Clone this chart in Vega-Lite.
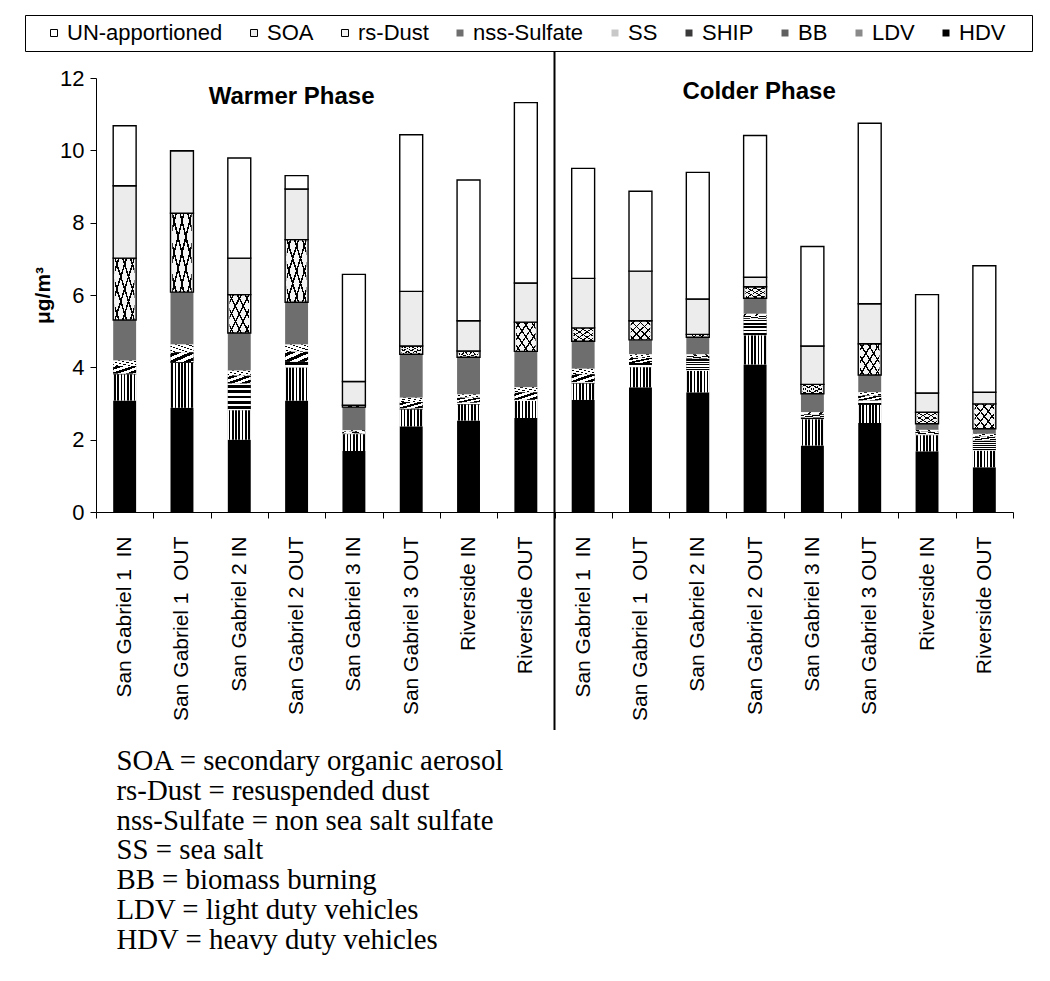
{
  "$schema": "https://vega.github.io/schema/vega-lite/v6.json",
  "width": 917,
  "height": 434,
  "autosize": {"type": "none"},
  "padding": {"left": 96, "top": 78, "right": 37, "bottom": 469},
  "background": "white",
  "config": {"view": {"stroke": null}, "font": "Liberation Sans"},
  "title": {
    "text": ["SOA = secondary organic aerosol", "rs-Dust = resuspended dust", "nss-Sulfate = non sea salt sulfate", "SS = sea salt", "BB = biomass burning", "LDV = light duty vehicles", "HDV = heavy duty vehicles"],
    "orient": "bottom",
    "anchor": "start",
    "font": "Liberation Serif",
    "fontSize": 28.8,
    "fontWeight": "normal",
    "lineHeight": 29.8,
    "color": "black",
    "dx": 92,
    "offset": 16,
    "baseline": "top"
  },
  "data": {
    "values": [
      {"key": "Warmer|San Gabriel 1\u00a0 IN", "HDV": 3.08, "LDV": 0.72, "BB": 0.02, "SHIP": 0.22, "SS": 0.15, "nss-Sulfate": 1.12, "rs-Dust": 1.71, "SOA": 2.00, "UN-apportioned": 1.66},
      {"key": "Warmer|San Gabriel 1\u00a0 OUT", "HDV": 2.88, "LDV": 1.24, "BB": 0.02, "SHIP": 0.28, "SS": 0.21, "nss-Sulfate": 1.45, "rs-Dust": 2.18, "SOA": 1.73, "UN-apportioned": 0.0},
      {"key": "Warmer|San Gabriel 2 IN", "HDV": 2.00, "LDV": 0.81, "BB": 0.74, "SHIP": 0.22, "SS": 0.14, "nss-Sulfate": 1.04, "rs-Dust": 1.06, "SOA": 1.01, "UN-apportioned": 2.77},
      {"key": "Warmer|San Gabriel 2 OUT", "HDV": 3.08, "LDV": 0.91, "BB": 0.16, "SHIP": 0.28, "SS": 0.20, "nss-Sulfate": 1.17, "rs-Dust": 1.73, "SOA": 1.40, "UN-apportioned": 0.37},
      {"key": "Warmer|San Gabriel 3 IN", "HDV": 1.69, "LDV": 0.46, "BB": 0.02, "SHIP": 0.05, "SS": 0.04, "nss-Sulfate": 0.64, "rs-Dust": 0.05, "SOA": 0.66, "UN-apportioned": 2.96},
      {"key": "Warmer|San Gabriel 3 OUT", "HDV": 2.37, "LDV": 0.46, "BB": 0.03, "SHIP": 0.18, "SS": 0.12, "nss-Sulfate": 1.20, "rs-Dust": 0.23, "SOA": 1.51, "UN-apportioned": 4.33},
      {"key": "Warmer|Riverside IN", "HDV": 2.53, "LDV": 0.44, "BB": 0.05, "SHIP": 0.14, "SS": 0.09, "nss-Sulfate": 1.03, "rs-Dust": 0.17, "SOA": 0.84, "UN-apportioned": 3.89},
      {"key": "Warmer|Riverside OUT", "HDV": 2.60, "LDV": 0.47, "BB": 0.03, "SHIP": 0.21, "SS": 0.14, "nss-Sulfate": 0.99, "rs-Dust": 0.81, "SOA": 1.08, "UN-apportioned": 4.99},
      {"key": "Colder|San Gabriel 1\u00a0 IN", "HDV": 3.10, "LDV": 0.45, "BB": 0.04, "SHIP": 0.22, "SS": 0.15, "nss-Sulfate": 0.76, "rs-Dust": 0.37, "SOA": 1.37, "UN-apportioned": 3.04},
      {"key": "Colder|San Gabriel 1\u00a0 OUT", "HDV": 3.45, "LDV": 0.55, "BB": 0.12, "SHIP": 0.14, "SS": 0.10, "nss-Sulfate": 0.40, "rs-Dust": 0.53, "SOA": 1.37, "UN-apportioned": 2.21},
      {"key": "Colder|San Gabriel 2 IN", "HDV": 3.31, "LDV": 0.59, "BB": 0.34, "SHIP": 0.07, "SS": 0.05, "nss-Sulfate": 0.47, "rs-Dust": 0.08, "SOA": 0.98, "UN-apportioned": 3.50},
      {"key": "Colder|San Gabriel 2 OUT", "HDV": 4.08, "LDV": 0.80, "BB": 0.46, "SHIP": 0.08, "SS": 0.06, "nss-Sulfate": 0.43, "rs-Dust": 0.32, "SOA": 0.26, "UN-apportioned": 3.92},
      {"key": "Colder|San Gabriel 3 IN", "HDV": 1.84, "LDV": 0.72, "BB": 0.05, "SHIP": 0.09, "SS": 0.06, "nss-Sulfate": 0.51, "rs-Dust": 0.26, "SOA": 1.06, "UN-apportioned": 2.75},
      {"key": "Colder|San Gabriel 3 OUT", "HDV": 2.46, "LDV": 0.50, "BB": 0.12, "SHIP": 0.14, "SS": 0.09, "nss-Sulfate": 0.48, "rs-Dust": 0.86, "SOA": 1.11, "UN-apportioned": 4.99},
      {"key": "Colder|Riverside IN", "HDV": 1.68, "LDV": 0.44, "BB": 0.03, "SHIP": 0.07, "SS": 0.05, "nss-Sulfate": 0.17, "rs-Dust": 0.32, "SOA": 0.53, "UN-apportioned": 2.72},
      {"key": "Colder|Riverside OUT", "HDV": 1.24, "LDV": 0.45, "BB": 0.29, "SHIP": 0.10, "SS": 0.08, "nss-Sulfate": 0.14, "rs-Dust": 0.69, "SOA": 0.32, "UN-apportioned": 3.50}
    ]
  },
  "transform": [
    {"fold": ["HDV", "LDV", "BB", "SHIP", "SS", "nss-Sulfate", "rs-Dust", "SOA", "UN-apportioned"], "as": ["source", "value"]},
    {"calculate": "indexof(['HDV','LDV','BB','SHIP','SS','nss-Sulfate','rs-Dust','SOA','UN-apportioned'], datum.source)", "as": "k"},
    {"stack": "value", "groupby": ["key"], "sort": [{"field": "k", "order": "ascending"}], "as": ["y0", "y1"]}
  ],
  "layer": [
    {
      "mark": {"type": "bar", "width": {"band": 0.4}, "strokeWidth": 1.4},
      "encoding": {
        "x": {
          "field": "key", "type": "nominal", "sort": null,
          "scale": {"paddingInner": 0, "paddingOuter": 0},
          "axis": {
            "title": null, "labelAngle": -90, "labelAlign": "right", "labelBaseline": "middle",
            "labelExpr": "split(datum.label, '|')[1]", "tickBand": "extent",
            "tickSize": 6, "labelPadding": 18, "labelFontSize": 21, "labelFont": "Liberation Sans",
            "labelColor": "black", "domainColor": "black", "tickColor": "black", "labelOverlap": false, "labelLimit": 400
          }
        },
        "y": {
          "field": "y0", "type": "quantitative",
          "scale": {"domain": [0, 12]},
          "axis": {
            "title": "μg/m³", "titleFont": "Liberation Sans", "titleFontSize": 21, "titleFontWeight": "bold",
            "titleColor": "black", "titlePadding": 6, "values": [0, 2, 4, 6, 8, 10, 12], "grid": false,
            "labelFontSize": 22, "labelFont": "Liberation Sans", "labelColor": "black", "tickSize": 6, "labelPadding": 6,
            "domainColor": "black", "tickColor": "black"
          }
        },
        "y2": {"field": "y1"},
        "fill": {
          "field": "source", "type": "nominal",
          "scale": {
            "domain": ["UN-apportioned", "SOA", "rs-Dust", "nss-Sulfate", "SS", "SHIP", "BB", "LDV", "HDV"],
            "range": ["#ffffff", "#ececec", "#f4f4f4", "#6e6e6e", "#c8c8c8", "#3a3a3a", "#606060", "#8a8a8a", "#000000"]
          },
          "legend": {
            "orient": "none", "legendX": -71, "legendY": -63, "direction": "horizontal", "columns": 9,
            "title": " ", "titleOrient": "right", "titlePadding": 20, "titleFontSize": 22,
            "symbolType": "square", "symbolSize": 49, "symbolOffset": 11, "columnPadding": 9, "labelOffset": 2,
            "labelFontSize": 22, "labelFont": "Liberation Sans", "labelColor": "black", "labelLimit": 400,
            "strokeColor": "black", "padding": 7, "symbolStrokeWidth": 1
          }
        },
        "stroke": {
          "field": "source", "type": "nominal",
          "scale": {
            "domain": ["UN-apportioned", "SOA", "rs-Dust", "nss-Sulfate", "SS", "SHIP", "BB", "LDV", "HDV"],
            "range": ["#000000", "#000000", "#000000", "transparent", "transparent", "transparent", "transparent", "transparent", "transparent"]
          },
          "legend": {
            "orient": "none", "legendX": -71, "legendY": -63, "direction": "horizontal", "columns": 9,
            "title": " ", "titleOrient": "right", "titlePadding": 20, "titleFontSize": 22,
            "symbolType": "square", "symbolSize": 49, "symbolOffset": 11, "columnPadding": 9, "labelOffset": 2,
            "labelFontSize": 22, "labelFont": "Liberation Sans", "labelColor": "black", "labelLimit": 400,
            "strokeColor": "black", "padding": 7, "symbolStrokeWidth": 1
          }
        }
      }
    },
    {
      "transform": [{"filter": "datum.source === 'rs-Dust'"}],
      "mark": {"type": "bar", "width": {"band": 0.34}, "strokeWidth": 0,
        "fill": {"gradient": "linear", "x1": 0, "y1": 0, "x2": 1, "y2": 1, "stops": [
          {"offset": 0, "color": "rgba(0,0,0,0)"}, {"offset": 0.08, "color": "rgba(0,0,0,0)"}, {"offset": 0.08, "color": "#000000"}, {"offset": 0.12, "color": "#000000"},
          {"offset": 0.12, "color": "rgba(0,0,0,0)"}, {"offset": 0.28, "color": "rgba(0,0,0,0)"}, {"offset": 0.28, "color": "#000000"}, {"offset": 0.32, "color": "#000000"},
          {"offset": 0.32, "color": "rgba(0,0,0,0)"}, {"offset": 0.48, "color": "rgba(0,0,0,0)"}, {"offset": 0.48, "color": "#000000"}, {"offset": 0.52, "color": "#000000"},
          {"offset": 0.52, "color": "rgba(0,0,0,0)"}, {"offset": 0.68, "color": "rgba(0,0,0,0)"}, {"offset": 0.68, "color": "#000000"}, {"offset": 0.72, "color": "#000000"},
          {"offset": 0.72, "color": "rgba(0,0,0,0)"}, {"offset": 0.88, "color": "rgba(0,0,0,0)"}, {"offset": 0.88, "color": "#000000"}, {"offset": 0.92, "color": "#000000"},
          {"offset": 0.92, "color": "rgba(0,0,0,0)"}, {"offset": 1, "color": "rgba(0,0,0,0)"}
        ]}
      },
      "encoding": {
        "x": {"field": "key", "type": "nominal", "sort": null},
        "y": {"field": "y0", "type": "quantitative"},
        "y2": {"field": "y1"}
      }
    },
    {
      "transform": [{"filter": "datum.source === 'rs-Dust'"}],
      "mark": {"type": "bar", "width": {"band": 0.34}, "strokeWidth": 0,
        "fill": {"gradient": "linear", "x1": 0, "y1": 1, "x2": 1, "y2": 0, "stops": [
          {"offset": 0, "color": "rgba(0,0,0,0)"}, {"offset": 0.08, "color": "rgba(0,0,0,0)"}, {"offset": 0.08, "color": "#000000"}, {"offset": 0.12, "color": "#000000"},
          {"offset": 0.12, "color": "rgba(0,0,0,0)"}, {"offset": 0.28, "color": "rgba(0,0,0,0)"}, {"offset": 0.28, "color": "#000000"}, {"offset": 0.32, "color": "#000000"},
          {"offset": 0.32, "color": "rgba(0,0,0,0)"}, {"offset": 0.48, "color": "rgba(0,0,0,0)"}, {"offset": 0.48, "color": "#000000"}, {"offset": 0.52, "color": "#000000"},
          {"offset": 0.52, "color": "rgba(0,0,0,0)"}, {"offset": 0.68, "color": "rgba(0,0,0,0)"}, {"offset": 0.68, "color": "#000000"}, {"offset": 0.72, "color": "#000000"},
          {"offset": 0.72, "color": "rgba(0,0,0,0)"}, {"offset": 0.88, "color": "rgba(0,0,0,0)"}, {"offset": 0.88, "color": "#000000"}, {"offset": 0.92, "color": "#000000"},
          {"offset": 0.92, "color": "rgba(0,0,0,0)"}, {"offset": 1, "color": "rgba(0,0,0,0)"}
        ]}
      },
      "encoding": {
        "x": {"field": "key", "type": "nominal", "sort": null},
        "y": {"field": "y0", "type": "quantitative"},
        "y2": {"field": "y1"}
      }
    },
    {
      "transform": [{"filter": "datum.source === 'SS'"}],
      "mark": {"type": "bar", "width": {"band": 0.4}, "strokeWidth": 0,
        "fill": {"gradient": "linear", "x1": 0, "y1": 1, "x2": 1, "y2": 0, "stops": [
          {"offset": 0, "color": "#ffffff"}, {"offset": 0.1, "color": "#ffffff"}, {"offset": 0.1, "color": "#000000"}, {"offset": 0.15, "color": "#000000"},
          {"offset": 0.15, "color": "#ffffff"}, {"offset": 0.35, "color": "#ffffff"}, {"offset": 0.35, "color": "#000000"}, {"offset": 0.4, "color": "#000000"},
          {"offset": 0.4, "color": "#ffffff"}, {"offset": 0.6, "color": "#ffffff"}, {"offset": 0.6, "color": "#000000"}, {"offset": 0.65, "color": "#000000"},
          {"offset": 0.65, "color": "#ffffff"}, {"offset": 0.85, "color": "#ffffff"}, {"offset": 0.85, "color": "#000000"}, {"offset": 0.9, "color": "#000000"},
          {"offset": 0.9, "color": "#ffffff"}, {"offset": 1, "color": "#ffffff"}
        ]}
      },
      "encoding": {
        "x": {"field": "key", "type": "nominal", "sort": null},
        "y": {"field": "y0", "type": "quantitative"},
        "y2": {"field": "y1"}
      }
    },
    {
      "transform": [{"filter": "datum.source === 'SHIP'"}],
      "mark": {"type": "bar", "width": {"band": 0.4}, "strokeWidth": 0,
        "fill": {"gradient": "linear", "x1": 0, "y1": 0, "x2": 1, "y2": 1, "stops": [
          {"offset": 0, "color": "#ffffff"}, {"offset": 0.083, "color": "#ffffff"}, {"offset": 0.083, "color": "#000000"}, {"offset": 0.25, "color": "#000000"},
          {"offset": 0.25, "color": "#ffffff"}, {"offset": 0.417, "color": "#ffffff"}, {"offset": 0.417, "color": "#000000"}, {"offset": 0.583, "color": "#000000"},
          {"offset": 0.583, "color": "#ffffff"}, {"offset": 0.75, "color": "#ffffff"}, {"offset": 0.75, "color": "#000000"}, {"offset": 0.917, "color": "#000000"},
          {"offset": 0.917, "color": "#ffffff"}, {"offset": 1, "color": "#ffffff"}
        ]}
      },
      "encoding": {
        "x": {"field": "key", "type": "nominal", "sort": null},
        "y": {"field": "y0", "type": "quantitative"},
        "y2": {"field": "y1"}
      }
    },
    {
      "transform": [{"filter": "datum.source === 'BB'"}],
      "mark": {"type": "bar", "width": {"band": 0.4}, "strokeWidth": 0,
        "fill": {"gradient": "linear", "x1": 0, "y1": 0, "x2": 0, "y2": 1, "stops": [
          {"offset": 0, "color": "#ffffff"}, {"offset": 0.045, "color": "#ffffff"}, {"offset": 0.045, "color": "#000000"}, {"offset": 0.155, "color": "#000000"},
          {"offset": 0.155, "color": "#ffffff"}, {"offset": 0.245, "color": "#ffffff"}, {"offset": 0.245, "color": "#000000"}, {"offset": 0.355, "color": "#000000"},
          {"offset": 0.355, "color": "#ffffff"}, {"offset": 0.445, "color": "#ffffff"}, {"offset": 0.445, "color": "#000000"}, {"offset": 0.555, "color": "#000000"},
          {"offset": 0.555, "color": "#ffffff"}, {"offset": 0.645, "color": "#ffffff"}, {"offset": 0.645, "color": "#000000"}, {"offset": 0.755, "color": "#000000"},
          {"offset": 0.755, "color": "#ffffff"}, {"offset": 0.845, "color": "#ffffff"}, {"offset": 0.845, "color": "#000000"}, {"offset": 0.955, "color": "#000000"},
          {"offset": 0.955, "color": "#ffffff"}, {"offset": 1, "color": "#ffffff"}
        ]}
      },
      "encoding": {
        "x": {"field": "key", "type": "nominal", "sort": null},
        "y": {"field": "y0", "type": "quantitative"},
        "y2": {"field": "y1"}
      }
    },
    {
      "transform": [{"filter": "datum.source === 'LDV'"}],
      "mark": {"type": "bar", "width": {"band": 0.4}, "strokeWidth": 0,
        "fill": {"gradient": "linear", "x1": 0, "y1": 0, "x2": 1, "y2": 0, "stops": [
          {"offset": 0, "color": "#ffffff"}, {"offset": 0.036, "color": "#ffffff"}, {"offset": 0.036, "color": "#000000"}, {"offset": 0.107, "color": "#000000"},
          {"offset": 0.107, "color": "#ffffff"}, {"offset": 0.179, "color": "#ffffff"}, {"offset": 0.179, "color": "#000000"}, {"offset": 0.25, "color": "#000000"},
          {"offset": 0.25, "color": "#ffffff"}, {"offset": 0.321, "color": "#ffffff"}, {"offset": 0.321, "color": "#000000"}, {"offset": 0.393, "color": "#000000"},
          {"offset": 0.393, "color": "#ffffff"}, {"offset": 0.464, "color": "#ffffff"}, {"offset": 0.464, "color": "#000000"}, {"offset": 0.536, "color": "#000000"},
          {"offset": 0.536, "color": "#ffffff"}, {"offset": 0.607, "color": "#ffffff"}, {"offset": 0.607, "color": "#000000"}, {"offset": 0.679, "color": "#000000"},
          {"offset": 0.679, "color": "#ffffff"}, {"offset": 0.75, "color": "#ffffff"}, {"offset": 0.75, "color": "#000000"}, {"offset": 0.821, "color": "#000000"},
          {"offset": 0.821, "color": "#ffffff"}, {"offset": 0.893, "color": "#ffffff"}, {"offset": 0.893, "color": "#000000"}, {"offset": 0.964, "color": "#000000"},
          {"offset": 0.964, "color": "#ffffff"}, {"offset": 1, "color": "#ffffff"}
        ]}
      },
      "encoding": {
        "x": {"field": "key", "type": "nominal", "sort": null},
        "y": {"field": "y0", "type": "quantitative"},
        "y2": {"field": "y1"}
      }
    },
    {
      "data": {"values": [{"phase": "Colder"}]},
      "mark": {"type": "rule", "color": "black", "strokeWidth": 2},
      "encoding": {
        "x": {"datum": "Colder|San Gabriel 1\u00a0 IN", "type": "nominal", "bandPosition": 0},
        "y": {"datum": 12.72, "type": "quantitative"},
        "y2": {"datum": -6.03}
      }
    },
    {
      "data": {"values": [{"label": "Warmer Phase"}]},
      "mark": {"type": "text", "font": "Liberation Sans", "fontSize": 24, "fontWeight": "bold", "color": "black", "align": "center", "baseline": "middle", "dx": -5},
      "encoding": {
        "x": {"datum": "Warmer|San Gabriel 2 OUT", "type": "nominal"},
        "y": {"datum": 11.47, "type": "quantitative"},
        "text": {"field": "label"}
      }
    },
    {
      "data": {"values": [{"label": "Colder Phase"}]},
      "mark": {"type": "text", "font": "Liberation Sans", "fontSize": 24, "fontWeight": "bold", "color": "black", "align": "center", "baseline": "middle", "dx": 4},
      "encoding": {
        "x": {"datum": "Colder|San Gabriel 2 OUT", "type": "nominal"},
        "y": {"datum": 11.61, "type": "quantitative"},
        "text": {"field": "label"}
      }
    }
  ]
}
